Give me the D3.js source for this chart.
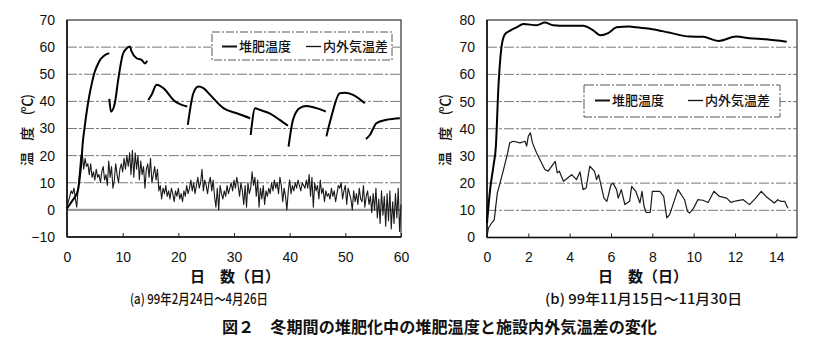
<!DOCTYPE html>
<html><head><meta charset="utf-8">
<script src="https://cdn.jsdelivr.net/npm/d3@7/dist/d3.min.js"></script>
<style>
html,body{margin:0;padding:0;background:#fff;}
svg{display:block;}
text{fill:#111;}
</style></head>
<body><svg id="c" width="820" height="352"></svg>
<script>
// ---------- DATA ----------
// (a) left chart
const aYTicks = [-10, 0, 10, 20, 30, 40, 50, 60, 70];
const aXTicks = [0, 10, 20, 30, 40, 50, 60];
// temperature difference, sampled every 0.25 day from day 0 to day 60
const aDiff = [
 1,3,5,7, 6,8,4,1, 8,14,20,21, 15,19,16,17, 13,17,12,14, 11,15,12,13,
 10,14,16,11, 13,9,18,12, 16,8,11,17, 13,10,15,17, 14,19,15,20, 16,21,13,22,
 12,21,15,20, 11,18,13,16, 8,15,17,12, 19,10,13,16, 11,15,7,9, 4,8,6,9,
 5,7,4,8, 6,3,7,5, 8,4,6,3, 7,5,9,6, 8,11,7,10, 6,9,12,8,
 10,15,7,11, 9,6,10,12, 7,11,5,1, 8,0,9,6, 4,7,5,9, 6,8,10,7,
 11,8,12,9, 5,10,7,2, 9,1,10,6, 8,14,9,12, 5,11,1,8, 4,9,2,7,
 5,8,6,10, 7,11,8,10, 6,12,9,3, 8,5,0,7, 11,6,9,7, 10,8,11,9,
 7,10,9,8, 11,8,13,5, 12,1,10,7, 9,4,11,6, 8,3,7,5, 6,4,8,5,
 7,3,6,9, 8,10,4,7, 9,2,8,6, 4,0,7,3, 6,2,8,4, 3,9,1,5,
 7,2,5,-1, 6,0,8,-3, 4,-5,7,-2, 5,-6,6,-4, 7,-7,3,-5, 6,-3,8,-8, 2
];
// compost temperature batches: [day, °C]
const aCompost1 = [[0,0.5],[0.5,2],[1,3.5],[1.5,5],[2,7.5],[2.3,12],[2.6,18],[2.8,24],[3.2,31],[3.6,37],[4,42],[4.5,47],[5,51],[5.5,53.5],[6,55.5],[6.5,56.5],[7,57.3],[7.6,57.8]];
const aCompost2 = [[7.6,40.9],[7.9,36.2],[8.6,39.4],[9.2,48],[10,57.2],[10.6,59.3],[11.3,60.2],[11.6,58.4],[12.5,55.9],[13.4,55.3],[14,54],[14.4,55]];
const aCompost3 = [[14.6,40.5],[15.2,42.4],[16.1,46.1],[17.3,44.9],[19.4,40],[20.6,38.7],[21.6,38.1]];
const aCompost4 = [[21.7,31.3],[22.7,43],[23.6,45.5],[24.5,44.9],[25.7,42.4],[28.1,37.5],[30.5,35.6],[32.9,33.8]];
const aCompost5 = [[33,27.6],[33.8,37.5],[34.6,36.9],[36.4,35.6],[38.2,33.2],[39.7,31]];
const aCompost6 = [[39.8,23.3],[40.6,33.2],[41.8,37.5],[43,38.3],[44.8,37.5],[46.5,36.2]];
const aCompost7 = [[46.6,27.1],[47.5,34.4],[49,43],[49.9,43.2],[51.4,42.4],[53.5,39.3]];
const aCompost8 = [[53.7,26.1],[54.4,27.6],[55.6,32],[57.4,33.2],[59.8,33.8]];

// (b) right chart
const bYTicks = [0, 10, 20, 30, 40, 50, 60, 70, 80];
const bXTicks = [0, 2, 4, 6, 8, 10, 12, 14];
const bCompost = [[0,5.3],[0.07,11.4],[0.15,17.6],[0.31,26.2],[0.43,33.6],[0.55,55],[0.71,70.5],[0.87,74.8],[1.1,76],[1.43,77.3],[1.76,78.5],[2.4,78.1],[2.8,79.1],[3.2,78.1],[3.85,77.9],[4.65,77.9],[5.1,76.4],[5.5,74.4],[5.86,75.2],[6.27,77.3],[6.9,77.6],[7.2,77.3],[8.0,76.6],[8.8,75.4],[9.8,73.9],[10.45,73.8],[11.2,72.3],[12.06,73.9],[12.7,73.3],[13.5,72.9],[14.5,72]];
const bDiff = [[0,0.4],[0.07,3.5],[0.24,5.5],[0.35,6.5],[0.5,16.4],[0.63,20],[0.8,25],[1.0,31.1],[1.1,34.8],[1.27,35.4],[1.6,34.8],[1.84,35.4],[1.92,33.6],[2.0,37.3],[2.1,38.5],[2.2,34.8],[2.4,31.1],[2.8,25],[2.96,24.4],[3.3,28],[3.4,23.8],[3.5,24.4],[3.7,20.7],[4.1,23.1],[4.33,21.3],[4.5,24.1],[4.65,17.6],[4.8,18.2],[4.97,26.2],[5.2,24.4],[5.3,21.3],[5.4,23.1],[5.66,14.5],[5.8,13.3],[6.0,19.4],[6.1,20],[6.27,17.6],[6.35,14.5],[6.5,17.6],[6.67,12.1],[6.9,13.3],[7.0,18.8],[7.2,17],[7.4,12.7],[7.5,17],[7.6,11.4],[7.7,9.2],[7.9,9.2],[8.0,17],[8.36,17],[8.55,15.1],[8.7,7.2],[8.84,8.4],[9.0,12.1],[9.24,17.6],[9.4,15.8],[9.56,13.9],[9.7,9.6],[9.8,9.0],[10.0,10.8],[10.2,13.9],[10.45,13.7],[10.7,12.9],[10.98,17],[11.25,15.1],[11.6,14.5],[11.8,12.9],[12.06,13.5],[12.4,13.9],[12.7,12.1],[13.0,14.5],[13.27,17],[13.5,15.1],[13.9,12.7],[14.07,13.9],[14.2,13.3],[14.4,13.3],[14.56,10.8]];

const legendLabels = ["堆肥温度", "内外気温差"];
const yTitle = "温　度　(℃)";
const xTitle = "日　数（日）";
const captionA = "(a) 99年2月24日～4月26日";
const captionB = "(b) 99年11月15日～11月30日";
const figTitle = "図２　冬期間の堆肥化中の堆肥温度と施設内外気温差の変化";

// ---------- DRAW ----------
const svg = d3.select("#c");
const JP = "'Noto Sans CJK JP','Noto Sans',sans-serif";
const NUM = "'Liberation Sans',Arial,sans-serif";

function panel(o) {
  const x = d3.scaleLinear().domain(o.xDomain).range([o.x0, o.x1]);
  const y = d3.scaleLinear().domain(o.yDomain).range([o.y1, o.y0]);
  const g = svg.append("g");
  // grid lines
  o.yTicks.forEach(t => {
    if (t === o.yDomain[1] || t === o.yDomain[0]) return;
    g.append("line").attr("x1", o.x0).attr("x2", o.x1).attr("y1", y(t)).attr("y2", y(t))
      .attr("stroke", t === 0 ? "#999" : "#7a7a7a")
      .attr("stroke-width", t === 0 ? 2.4 : 1)
      .attr("stroke-dasharray", t === 0 ? null : "10,2,3,2");
  });
  // frame
  g.append("rect").attr("x", o.x0).attr("y", o.y0).attr("width", o.x1 - o.x0).attr("height", o.y1 - o.y0)
    .attr("fill", "none").attr("stroke", "#333").attr("stroke-width", 1.2);
  g.append("line").attr("x1", o.x0).attr("x2", o.x0).attr("y1", o.y0).attr("y2", o.y1).attr("stroke", "#111").attr("stroke-width", 1.6);
  g.append("line").attr("x1", o.x0).attr("x2", o.x1).attr("y1", o.y1).attr("y2", o.y1).attr("stroke", "#111").attr("stroke-width", 1.6);
  // x axis ticks (inward) and labels
  const xa = d3.axisBottom(x).tickValues(o.xTicks).tickSize(-4).tickPadding(15).tickFormat(d3.format("d"));
  const xg = g.append("g").attr("transform", `translate(0,${o.y1})`).call(xa);
  xg.select(".domain").remove();
  xg.selectAll("line").attr("stroke", "#222");
  xg.selectAll("text").attr("font-family", NUM).attr("font-size", 14).attr("fill", "#111");
  // y axis labels
  const ya = d3.axisLeft(y).tickValues(o.yTicks).tickSize(0).tickPadding(12).tickFormat(d => d < 0 ? "\u2212" + Math.abs(d) : d);
  const yg = g.append("g").attr("transform", `translate(${o.x0},0)`).call(ya);
  yg.select(".domain").remove();
  yg.selectAll("text").attr("font-family", NUM).attr("font-size", 14).attr("fill", "#111");
  // legend
  const L = o.legend;
  g.append("rect").attr("x", L.x).attr("y", L.y).attr("width", L.w).attr("height", L.h)
    .attr("fill", "#fff").attr("stroke", "#444").attr("stroke-width", 0.9).attr("stroke-dasharray", L.dash);
  legendLabels.forEach((lab, i) => {
    const lx = L.items[i];
    g.append("line").attr("x1", lx).attr("x2", lx + 15).attr("y1", L.ty).attr("y2", L.ty)
      .attr("stroke", "#111").attr("stroke-width", i === 0 ? 2 : 1.3);
    g.append("text").attr("x", lx + 17).attr("y", L.ty).attr("dy", "0.36em")
      .attr("font-family", JP).attr("font-size", 13).attr("font-weight", 500).text(lab);
  });
  // titles
  g.append("text").attr("transform", `translate(${o.yTitleX},130) rotate(-90)`)
    .attr("text-anchor", "middle").attr("dy", "0.35em")
    .attr("font-family", JP).attr("font-size", 14).attr("font-weight", 500)
    .attr("textLength", 72).attr("lengthAdjust", "spacing").text(yTitle);
  g.append("text").attr("x", o.xTitleX).attr("y", 277).attr("text-anchor", "middle").attr("dy", "0.36em")
    .attr("font-family", JP).attr("font-size", 15).attr("font-weight", 700).text(xTitle);
  g.append("text").attr("x", o.capX).attr("y", 299).attr("dy", "0.36em")
    .attr("font-family", JP).attr("font-size", 14).attr("font-weight", 500)
    .attr("textLength", o.capW).attr("lengthAdjust", "spacingAndGlyphs")
    .text(o.caption);
  return {g, x, y};
}

const line = (x, y) => d3.line().x(d => x(d[0])).y(d => y(d[1]));

// left panel
const A = panel({
  x0: 67, x1: 401, y0: 20, y1: 237, xDomain: [0, 60], yDomain: [-10, 70],
  xTicks: aXTicks, yTicks: aYTicks,
  legend: {x: 212, y: 32, w: 180, h: 28, ty: 46.5, items: [222, 306], dash: "8,2,2,2"},
  yTitleX: 27, xTitleX: 235, capX: 130, capW: 138, caption: captionA
});
const aDiffPts = aDiff.map((v, i) => [i / 4, v]);
A.g.append("path").datum(aDiffPts).attr("d", line(A.x, A.y))
  .attr("fill", "none").attr("stroke", "#1a1a1a").attr("stroke-width", 1.1).attr("stroke-linejoin", "round");
[aCompost1, aCompost2, aCompost3, aCompost4, aCompost5, aCompost6, aCompost7, aCompost8].forEach(seg => {
  A.g.append("path").datum(seg).attr("d", line(A.x, A.y).curve(d3.curveMonotoneX))
    .attr("fill", "none").attr("stroke", "#000").attr("stroke-width", 2).attr("stroke-linejoin", "round");
});

// right panel
const B = panel({
  x0: 487, x1: 797, y0: 20, y1: 237.5, xDomain: [0, 15], yDomain: [0, 80],
  xTicks: bXTicks, yTicks: bYTicks,
  legend: {x: 584, y: 85, w: 196, h: 32, ty: 100.5, items: [595, 688], dash: "10,2,2,2"},
  yTitleX: 445, xTitleX: 643, capX: 545, capW: 197, caption: captionB
});
B.g.append("path").datum(bDiff).attr("d", line(B.x, B.y))
  .attr("fill", "none").attr("stroke", "#1a1a1a").attr("stroke-width", 1.2).attr("stroke-linejoin", "round");
B.g.append("path").datum(bCompost).attr("d", line(B.x, B.y).curve(d3.curveMonotoneX))
  .attr("fill", "none").attr("stroke", "#000").attr("stroke-width", 2).attr("stroke-linejoin", "round");

// figure title
svg.append("text").attr("x", 222).attr("y", 327).attr("dy", "0.36em")
  .attr("font-family", JP).attr("font-size", 16).attr("font-weight", 700)
  .attr("textLength", 435).attr("lengthAdjust", "spacingAndGlyphs").text(figTitle);
</script></body></html>
